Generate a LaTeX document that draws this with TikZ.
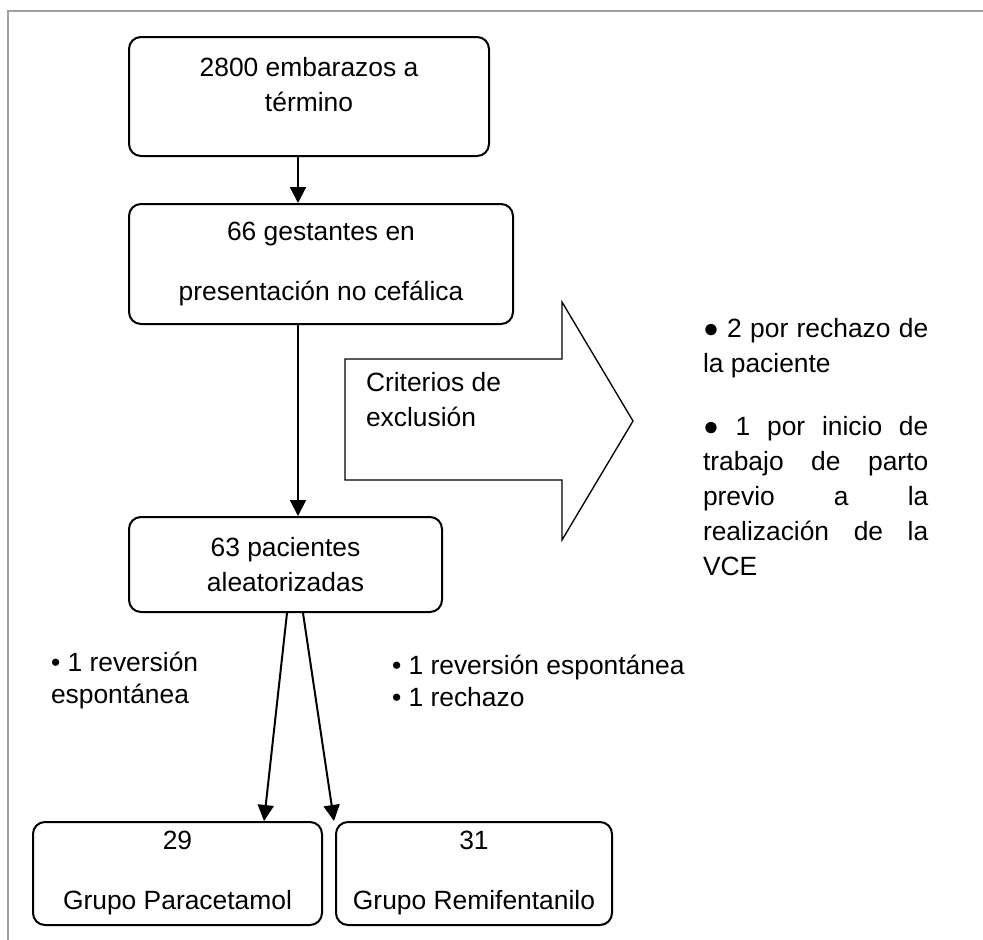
\documentclass[tikz,border=0pt]{standalone}
\usepackage{fontspec}
\setmainfont{Liberation Sans}
\usetikzlibrary{arrows.meta}
\setlength{\parindent}{0pt}
\hyphenpenalty=10000

\tikzset{every picture/.style={line width=1.5pt}}
\tikzset{
  flowbox/.style={draw, rounded corners=9pt, inner sep=0pt, align=center, font=\fontsize{19.8}{26.25}\selectfont},
  widebox/.style={flowbox, font=\fontsize{19.8}{45}\selectfont},
  flowarrow/.style={-{Triangle[length=12pt,width=12pt]}},
  plaintext/.style={inner sep=0pt, font=\fontsize{19.8}{26.25}\selectfont},
  framegrey/.style={draw={rgb,255:red,160;green,160;blue,160}, line width=1.5pt},
}

\begin{document}
\begin{tikzpicture}[x=0.75pt,y=0.75pt,yscale=-1,xscale=1]
\useasboundingbox (0,0) rectangle (983,940);

%Page frame
\draw [framegrey] (8,940) -- (8,11) -- (983,11) ;

%Rounded Rect
\node [flowbox, minimum width=270pt, minimum height=89.25pt] (b1) at (309,96.5) {};
% Text Node
\node [plaintext, align=center] (t1) at (309,84.5) {2800 embarazos a\\término};
%Rounded Rect
\node [widebox, minimum width=288pt, minimum height=90pt] (b2) at (321,264) {66 gestantes en\\presentación no cefálica};
%Rounded Rect
\node [flowbox, minimum width=234.75pt, minimum height=71.25pt] (b3) at (285.5,564.5) {63 pacientes\\aleatorizadas};
%Rounded Rect
\node [widebox, minimum width=216.75pt, minimum height=77.25pt] (b4) at (177.5,873.5) {29\\Grupo Paracetamol};
%Rounded Rect
\node [widebox, minimum width=207pt, minimum height=77.25pt] (b5) at (474,873.5) {31\\Grupo Remifentanilo};

%Exclusion arrow
\draw [line width=1pt] (345,359) -- (562,359) -- (562,302) -- (633,421) -- (562,540) -- (562,480) -- (345,480) -- cycle ;
% Text Node
\node [plaintext, align=left, anchor=west] (excl) at (365,400) {Criterios de\\exclusión};
% Text Node
\node [plaintext, anchor=north west, text width=169pt, align=justify] (motivos) at (702,317) {● 2 por rechazo de\linebreak la paciente\par\vspace{21pt}● 1 por inicio de\linebreak trabajo de parto\linebreak previo a la\linebreak realización de la\linebreak VCE};

% Text Node
\node [plaintext, align=left, anchor=west, font=\fontsize{19.8}{24}\selectfont] (perdP) at (50,681) {• 1 reversión\\espontánea};
% Text Node
\node [plaintext, align=left, anchor=west, font=\fontsize{19.8}{24}\selectfont] (perdR) at (391,681) {• 1 reversión espontánea\\• 1 rechazo};

%Arrows
\draw [flowarrow] ([xshift=-8.25pt]b1.south) -- ([xshift=-8.25pt]b1.south |- b2.north) ;
\draw [flowarrow] ([xshift=-17.25pt]b2.south) -- ([xshift=-17.25pt]b2.south |- b3.north) ;
\draw [flowarrow] ([xshift=1.125pt]b3.south) -- ([xshift=64.875pt]b4.north) ;
\draw [flowarrow] ([xshift=13.125pt]b3.south) -- ([xshift=-105pt]b5.north) ;
\end{tikzpicture}
\end{document}
